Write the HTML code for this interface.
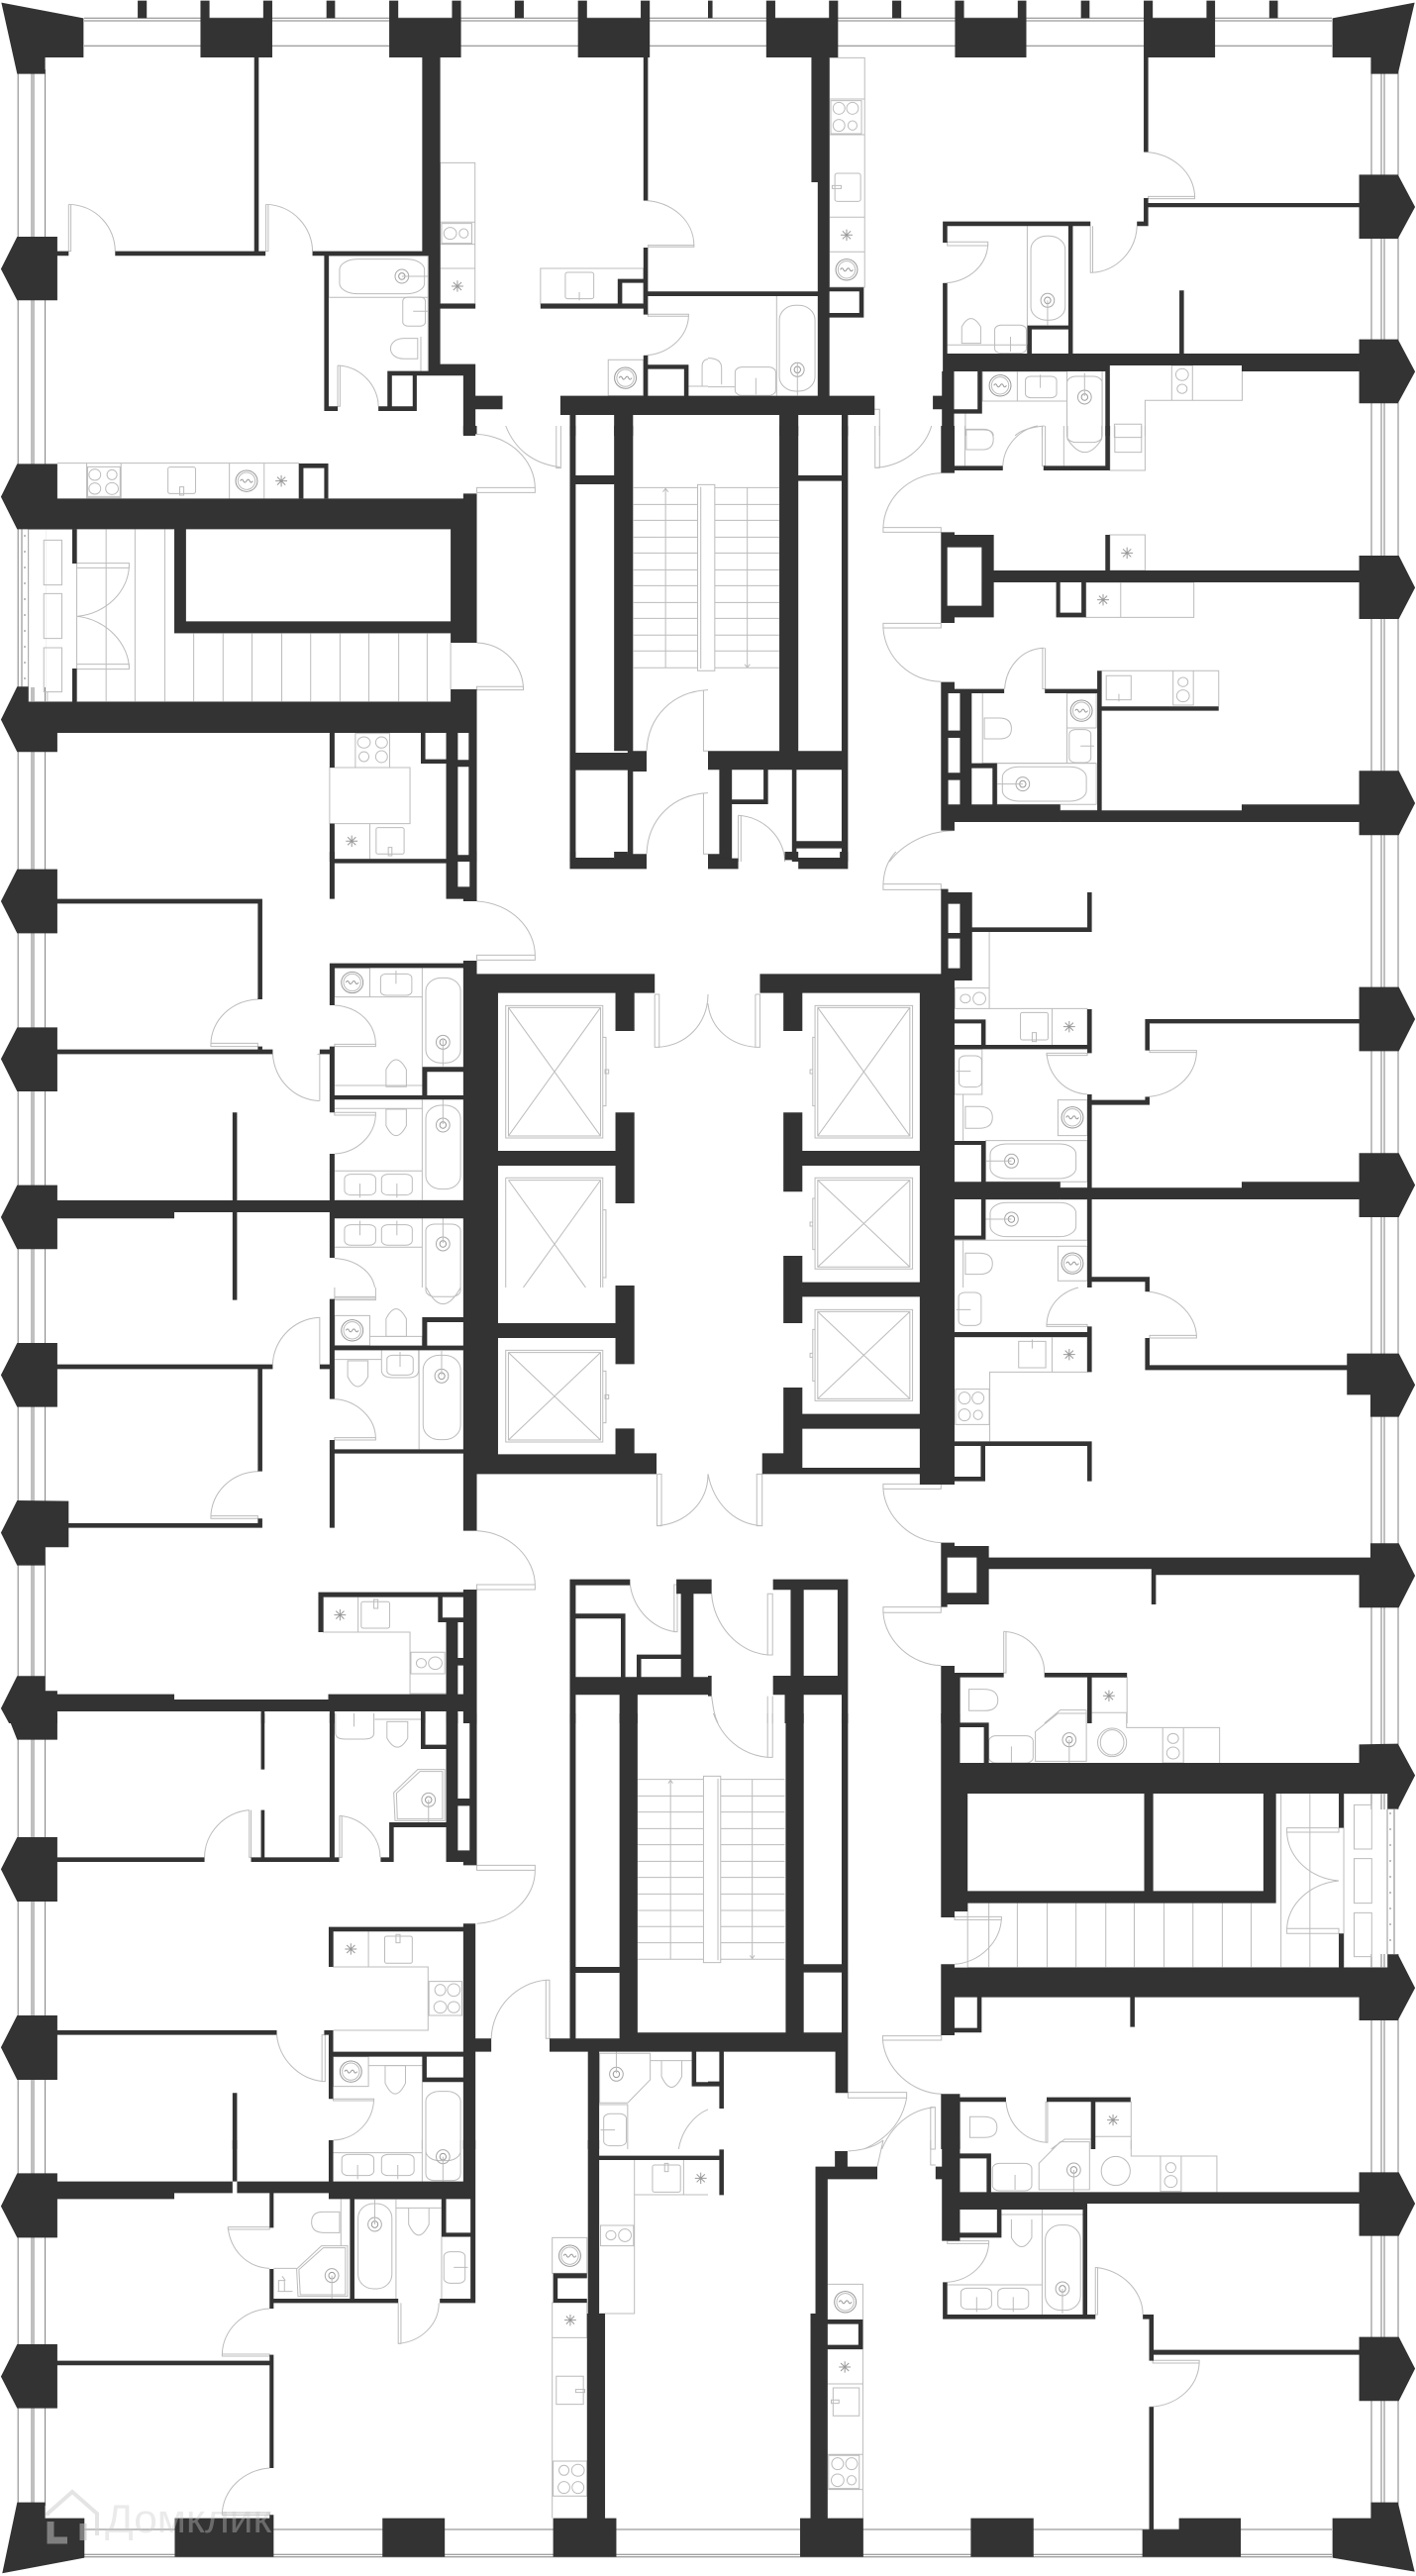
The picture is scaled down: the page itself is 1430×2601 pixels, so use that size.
<!DOCTYPE html>
<html><head><meta charset="utf-8"><title>Floor plan</title>
<style>
html,body{margin:0;padding:0;background:#fff;width:1430px;height:2601px;overflow:hidden}
svg{display:block}
svg *{vector-effect:non-scaling-stroke}
.d{fill:#333}
.l{fill:none;stroke:#bcbcbc;stroke-width:1}
.g{fill:none;stroke:#808080;stroke-width:1}
.t{font-family:"Liberation Sans","DejaVu Sans",sans-serif;font-size:40px;fill:#c8c8c8;fill-opacity:.38}
</style></head><body>
<svg width="1430" height="2601" viewBox="0 0 1430 2601" xmlns="http://www.w3.org/2000/svg">
<defs>
<g id="st"><path class="l" d="M-13 0H13M0-17V17M-9-12L9 12M9-12L-9 12" style="stroke:#999"/></g>
<g id="wa"><ellipse class="l" rx="24" ry="32" style="stroke:#999"/><ellipse class="l" rx="19" ry="26"/><path class="l" d="M-14 0q4-9 7 0t7 0 7 0 7 0" style="stroke:#999"/></g>
<g id="dr"><ellipse class="l" rx="15" ry="21" style="stroke:#aaa"/><ellipse class="l" rx="7" ry="10" style="stroke:#999"/></g>
</defs>
<rect width="1430" height="2601" fill="#fff"/>
<!-- windows -->
<path class="g" d="M85 18.3H1345M85 21H1345M85 46.3H1345M85 2554H1345M85 2579.3H1345M85 2581.7H1345M18.2 70V2530M32 70V2530M34 70V2530M45.6 70V2530M1385 70V2530M1395 70V2530M1398 70V2530M1412 70V2530"/>
<rect x="19" y="534" width="27" height="160" fill="#fff"/>
<path class="g" d="M22 534V694M28.5 534V694"/>
<path class="g" stroke-dasharray="2 14" d="M25 540V690"/>
<rect x="1357" y="1827" width="56" height="146" fill="#fff"/>
<path class="g" d="M1401 1827V1973M1408 1827V1973"/>
<path class="g" stroke-dasharray="2 14" d="M1404 1830V1970"/>

<!-- A -->
<g transform="translate(0,0) scale(.456,.3333)"><path class="l" d="M152 619C215 622 255 690 255 761M152 619V761H157V619M589 619C650 622 692 690 692 761M589 619V761H594V619M748 1107C800 1110 838 1170 838 1231M748 1107V1231H753V1107M1425 607C1490 610 1537 670 1537 745M1435 743H1537V748H1435ZM1525 955C1525 1020 1480 1075 1425 1077M1435 952H1525V958H1435Z"/>
<path class="l" d="M975 493H1052V920H975ZM975 673H1052M975 740H1052M975 813H1052M978 677H1045V737H978Z"/><ellipse class="l" cx="997" cy="707" rx="14" ry="18"/><ellipse class="l" cx="1027" cy="707" rx="10" ry="14"/><use href="#st" x="1013" y="867"/>
<path class="l" d="M728 775H948V901H728ZM728 901H948"/><rect class="l" x="752" y="785" width="188" height="105" rx="40" ry="32"/><use href="#dr" x="890" y="837"/><path class="l" d="M890 837H948"/>
<rect class="l" x="892" y="900" width="50" height="88" rx="12" ry="12"/><path class="l" d="M915 943H948M948 901V1124M932 1020V1124"/><path class="l" d="M925 1025H895C855 1025 855 1087 895 1087H925Z"/>
<path class="l" d="M1197 813H1425V920H1197Z"/><rect class="l" x="1252" y="825" width="63" height="80" rx="6"/><path class="l" d="M1283 885V910"/>
<path class="l" d="M1347 1090H1425V1199H1347Z"/><use href="#wa" x="1385" y="1145"/><path class="l" d="M1525 1170H1568M1555 1170V1110Q1555 1090 1568 1088"/></g>
<!-- B -->
<g transform="translate(715,0) scale(.456,.3333)"><path class="l" d="M269 175H347V870H269ZM269 300H347M269 408H347M269 658H347M269 763H347M272 305H340V405H272Z"/>
<ellipse class="l" cx="290" cy="328" rx="13" ry="18"/><ellipse class="l" cx="320" cy="328" rx="13" ry="18"/><ellipse class="l" cx="290" cy="380" rx="13" ry="18"/><ellipse class="l" cx="320" cy="380" rx="10" ry="14"/>
<rect class="l" x="281" y="525" width="57" height="85" rx="6"/><path class="l" d="M275 562H295V571H275Z"/><use href="#st" x="307" y="712"/><use href="#wa" x="307" y="817"/>
<path class="l" d="M965 460C1030 463 1078 525 1078 598M975 595H1078V602H975ZM950 685C948 760 905 822 850 826M847 685V826H852V685M620 735C620 800 580 855 520 858M530 733H620V744H530Z"/>
<path class="l" d="M707 685V986M530 1045H707V1071"/><rect class="l" x="715" y="715" width="76" height="255" rx="36" ry="40"/><use href="#dr" x="752" y="910"/><path class="l" d="M752 910V985"/>
<path class="l" d="M562 1040V990Q582 940 604 990V1040Z"/><rect class="l" x="635" y="985" width="70" height="85" rx="14"/><path class="l" d="M670 1020V1065"/>
<path class="l" d="M152 897V1199M0 1172H60M0 1085Q30 1085 30 1115V1165"/><rect class="l" x="158" y="925" width="79" height="260" rx="36" ry="44"/><use href="#dr" x="198" y="1120"/><path class="l" d="M198 1100V1198"/><rect class="l" x="60" y="1112" width="90" height="86" rx="16"/><path class="l" d="M106 1145V1195"/>
<path class="l" d="M608 1125H795V1215H608ZM685 1125V1215M795 1215V1320M873 1125V1320"/><use href="#wa" x="647" y="1168"/><rect class="l" x="703" y="1140" width="69" height="65" rx="12"/><path class="l" d="M736 1135V1175"/><rect class="l" x="795" y="1140" width="78" height="200" rx="20"/><use href="#dr" x="834" y="1203"/><path class="l" d="M834 1130V1200"/>
<path class="l" d="M968 1320V1213H1183V1107M1027 1107H1073V1213H1027Z"/><ellipse class="l" cx="1050" cy="1135" rx="14" ry="18"/><ellipse class="l" cx="1050" cy="1178" rx="11" ry="14"/>
<path class="l" d="M570 1320V1302H610Q632 1302 632 1320M745 1290C710 1295 690 1305 680 1320M740 1290V1320"/><rect class="l" x="900" y="1285" width="60" height="40"/><path class="l" d="M310 1240H380V1320M570 1253V1320"/></g>
<!-- C -->
<g transform="translate(0,430) scale(.456,.3333)"><path class="l" d="M127 113H662V220M508 113V220M585 113V220M192 113H268V218H192ZM194 124H266V214H194Z"/>
<ellipse class="l" cx="210" cy="148" rx="13" ry="17"/><ellipse class="l" cx="248" cy="148" rx="11" ry="15"/><ellipse class="l" cx="210" cy="190" rx="13" ry="17"/><ellipse class="l" cx="248" cy="190" rx="14" ry="18"/>
<rect class="l" x="372" y="125" width="61" height="80" rx="5"/><path class="l" d="M398 185H407V210H398Z"/><use href="#wa" x="546" y="167"/><use href="#st" x="623" y="167"/>
<path class="l" d="M1056 25C1130 30 1185 105 1185 190M1056 187H1185V202H1056ZM1120 0C1140 70 1180 115 1240 125M1232 0V128H1242V0"/>
<path class="l" d="M63 313H170V836H63ZM97 346H137V482H97ZM97 508H137V644H97ZM97 672H137V806H97ZM105 806V836"/>
<path class="l" d="M170 416H286V430H170ZM286 420C286 500 235 570 170 577M170 722H286V737H170ZM286 737C286 660 235 585 170 577"/>
<path class="l" d="M235 313V836M299 313V836M365 313V836M429 628V836M494 628V836M558 628V836M624 628V836M688 628V836M753 628V836M817 628V836M883 628V836M946 628V836M170 836H998M998 657V798M386 628H998"/>
<path class="l" d="M1056 657C1115 660 1159 725 1159 798M1056 790H1159V800H1056Z"/>
<path class="l" d="M1403 187H1545M1403 238H1545M1403 286H1545M1403 337H1545M1403 385H1545M1403 436H1545M1403 484H1545M1403 535H1545M1403 583H1545M1403 634H1545M1403 682H1545M1403 733H1545M1474 187V733M1468 200L1474 190 1480 200M1568 178H1545V742H1568M1552 185V735"/>
<path class="l" d="M1432 985C1435 880 1490 805 1568 800M1558 800V985H1568M1432 1297C1435 1190 1490 1117 1568 1112M1558 1112V1297H1568"/>
<path class="l" d="M787 932H863V1035H787ZM730 1035H908V1205H730ZM819 1205V1312"/><ellipse class="l" cx="806" cy="959" rx="14" ry="17"/><ellipse class="l" cx="845" cy="959" rx="13" ry="17"/><ellipse class="l" cx="806" cy="1002" rx="11" ry="15"/><ellipse class="l" cx="845" cy="1002" rx="13" ry="18"/>
<use href="#st" x="779" y="1258"/><rect class="l" x="833" y="1217" width="62" height="80" rx="5"/><path class="l" d="M860 1277H868V1302H860Z"/></g>
<!-- D -->
<g transform="translate(715,430) scale(.456,.3333)"><path class="l" d="M15 187H158M15 238H158M15 286H158M15 337H158M15 385H158M15 436H158M15 484H158M15 535H158M15 583H158M15 634H158M15 682H158M15 733H158M87 187V733M81 722L87 732 93 722M0 178H15V742H0"/>
<path class="l" d="M516 143C445 147 390 220 388 308M388 308H516V322H388ZM388 598H516V612H388ZM388 612C392 700 445 772 516 775M745 673C695 675 660 730 657 797M741 673V797H747V673M370 0V127H380V0M370 127C430 122 480 70 495 0M653 121C655 60 690 10 730 0M740 0V121H747V0"/>
<path class="l" d="M890 330H968V438H890ZM837 474H1076V580H837ZM914 474V580"/><use href="#st" x="928" y="385"/><use href="#st" x="875" y="527"/>
<path class="l" d="M872 742H1131V850M882 757H937V830H882ZM1030 742H1075V846H1030Z"/><ellipse class="l" cx="1052" cy="776" rx="11" ry="14"/><ellipse class="l" cx="1052" cy="818" rx="14" ry="18"/><path class="l" d="M910 812V835"/>
<path class="l" d="M795 810H860V915H795Z"/><use href="#wa" x="827" y="863"/><rect class="l" x="800" y="920" width="48" height="100" rx="14"/><path class="l" d="M825 970H855M795 915V1022M608 810V1022H860"/><path class="l" d="M612 885H645Q672 885 672 917T645 948H612Z"/>
<path class="l" d="M640 1022H860V1147H640Z"/><rect class="l" x="652" y="1033" width="186" height="104" rx="36" ry="32"/><use href="#dr" x="697" y="1085"/><path class="l" d="M640 1085H697"/>
<path class="l" d="M780 1147V1165H862M546 1226C480 1228 430 1270 402 1320"/><path class="l" d="M67 1180V1320M73 1180V1320M67 1180C125 1185 170 1250 170 1320"/>
<path class="l" d="M890 0V135H968V0M788 0V121M901 0V80H960V0"/><path class="l" d="M796 0V40Q835 120 872 40V0"/><path class="l" d="M572 10H610Q632 10 632 40T610 72H572Z"/><path class="l" d="M569 0V121"/></g>
<!-- E -->
<g transform="translate(0,860) scale(.456,.3333)"><path class="l" d="M1120 466H1335V867H1120ZM1126 472H1330V861H1126ZM1126 472L1330 861M1330 472L1126 861M1335 562H1342V770H1335ZM1340 660H1348V672H1340ZM1120 988H1335V1320M1120 988V1320M1126 995H1330V1320M1126 995L1297 1320M1330 995L1159 1320M1335 1085H1342V1290H1335Z"/>
<path class="l" d="M1450 432V592H1460V432H1450M1455 592C1520 590 1568 520 1568 432"/>
<path class="l" d="M1056 150C1130 155 1185 230 1185 315M1056 313H1185V328H1056ZM572 447C510 450 467 515 467 583M467 580H571V590H467ZM604 613C608 690 650 750 707 755M703 613H708V755M741 465C795 470 832 520 832 585M741 583H832V590H741ZM741 790H832V798H741ZM832 798C830 860 790 912 741 915M741 1232C790 1235 825 1275 830 1320"/>
<path class="l" d="M741 352H819V440H741ZM819 440H935M935 352V652"/><use href="#wa" x="780" y="396"/><rect class="l" x="843" y="370" width="69" height="65" rx="12"/><path class="l" d="M877 360V400"/>
<rect class="l" x="943" y="382" width="77" height="258" rx="34" ry="40"/><use href="#dr" x="981" y="577"/><path class="l" d="M981 570V650"/>
<path class="l" d="M855 712V660Q877 600 900 660V712ZM741 708H935"/>
<path class="l" d="M855 780V830Q877 890 900 830V780ZM741 778H935M935 751V1056"/><rect class="l" x="943" y="768" width="77" height="254" rx="34" ry="40"/><use href="#dr" x="981" y="828"/><path class="l" d="M981 750V825"/>
<path class="l" d="M741 967H935M741 1056H1026"/><rect class="l" x="763" y="977" width="69" height="63" rx="14"/><rect class="l" x="845" y="977" width="68" height="63" rx="14"/><path class="l" d="M797 1005V1048M879 1005V1048"/>
<rect class="l" x="763" y="1130" width="69" height="62" rx="14"/><rect class="l" x="845" y="1130" width="68" height="62" rx="14"/><path class="l" d="M797 1118V1162M879 1118V1162M741 1198H935M935 1111V1320"/><rect class="l" x="943" y="1128" width="77" height="220" rx="20"/><use href="#dr" x="981" y="1188"/><path class="l" d="M981 1110V1185"/></g>
<!-- F -->
<g transform="translate(715,860) scale(.456,.3333)"><path class="l" d="M237 466H453V867H237ZM243 472H447V861H243ZM243 472L447 861M447 472L243 861M232 562H237V770H232ZM226 660H232V672H226ZM237 988H453V1264H237ZM243 995H447V1258H243ZM243 995L447 1258M447 995L243 1258M232 1050H237V1205H232ZM226 1122H232V1134H226Z"/>
<path class="l" d="M105 432V592H115V432H105M105 592C45 585 5 530 0 460M388 98H516V115H388ZM388 98C390 50 400 25 416 0"/>
<path class="l" d="M547 413H623V475H547ZM623 243V475M546 475H840V585M762 475V585"/><ellipse class="l" cx="570" cy="445" rx="11" ry="13"/><ellipse class="l" cx="601" cy="445" rx="14" ry="19"/><rect class="l" x="692" y="487" width="61" height="83" rx="5"/><path class="l" d="M718 548H727V575H718Z"/><use href="#st" x="800" y="530"/>
<path class="l" d="M546 598H607V735H546Z"/><rect class="l" x="556" y="618" width="50" height="95" rx="14"/><path class="l" d="M550 665H582M565 735V875"/><path class="l" d="M570 772H600Q630 772 630 805T600 838H570Z"/><path class="l" d="M775 752H840V860H775Z"/><use href="#wa" x="807" y="805"/>
<path class="l" d="M750 610H840V617H750ZM750 612C755 680 790 730 840 735M978 602H1082V608H978ZM1082 605C1082 680 1030 740 968 743"/>
<path class="l" d="M615 875H840V1000H615ZM780 1000V1018H840"/><rect class="l" x="625" y="885" width="190" height="105" rx="36" ry="32"/><use href="#dr" x="672" y="937"/><path class="l" d="M615 937H672"/>
<path class="l" d="M615 1053H840V1177H546M780 1040V1053"/><rect class="l" x="625" y="1063" width="190" height="103" rx="36" ry="32"/><use href="#dr" x="672" y="1113"/><path class="l" d="M615 1113H672"/>
<path class="l" d="M565 1177V1320M570 1216H600Q630 1216 630 1248T600 1280H570Z"/><path class="l" d="M775 1195H840V1300H775Z"/><use href="#wa" x="807" y="1247"/></g>
<!-- G -->
<g transform="translate(0,1300) scale(.456,.3333)"><path class="l" d="M741 85H819V176H741ZM819 148H935V176"/><use href="#wa" x="780" y="130"/><path class="l" d="M855 148V95Q877 35 900 95V148Z"/><path class="l" d="M741 0V33H832V0M741 28H832V38H741Z"/>
<path class="l" d="M770 222V270Q792 330 815 270V222ZM741 218H845M845 190V250Q845 273 870 273H905Q927 273 927 250V190"/><rect class="l" x="857" y="205" width="58" height="60" rx="12"/><path class="l" d="M886 195V240M928 190V490"/><rect class="l" x="937" y="205" width="83" height="256" rx="36" ry="44"/><use href="#dr" x="978" y="268"/><path class="l" d="M978 192V265M944 0Q980 100 1020 0"/>
<path class="l" d="M705 91C650 95 605 160 604 233M703 91H708V233M741 338C790 342 832 395 832 458M741 455H832V462H741ZM572 557C510 560 467 625 467 695M467 692H571V700H467ZM1455 565V722H1465V565H1455M1455 722C1520 715 1568 650 1568 565M1056 737C1130 742 1185 820 1185 903M1056 900H1185V915H1056ZM1395 884C1395 960 1440 1035 1497 1043M1493 900H1500V1043H1493Z"/>
<path class="l" d="M1120 190H1335V468H1120ZM1126 197H1330V462H1126ZM1126 197L1330 462M1330 197L1126 462M1335 253H1342V410H1335ZM1340 325H1348V337H1340Z"/>
<path class="l" d="M716 938V1044H908V1230H988M793 938V1044M910 1105H985V1170H910Z"/><use href="#st" x="753" y="992"/><rect class="l" x="800" y="952" width="63" height="80" rx="5"/><path class="l" d="M828 945H837V972H828Z"/><ellipse class="l" cx="933" cy="1138" rx="11" ry="14"/><ellipse class="l" cx="964" cy="1138" rx="15" ry="19"/></g>
<!-- H -->
<g transform="translate(715,1300) scale(.456,.3333)"><path class="l" d="M237 67H453V343H237ZM243 73H447V337H243ZM243 73L447 337M447 73L243 337M232 127H237V283H232ZM226 199H232V211H226Z"/>
<rect class="l" x="555" y="15" width="50" height="100" rx="14"/><path class="l" d="M550 67H582M688 163H748V243H688ZM718 157V185"/><path class="l" d="M546 150H840V256H624V466M762 150V256M548 308H623V415H548Z"/><use href="#st" x="800" y="203"/><ellipse class="l" cx="568" cy="335" rx="13" ry="18"/><ellipse class="l" cx="598" cy="335" rx="13" ry="18"/><ellipse class="l" cx="568" cy="386" rx="13" ry="18"/><ellipse class="l" cx="598" cy="386" rx="10" ry="14"/>
<path class="l" d="M388 595H516V610H388ZM388 610C392 695 450 770 516 773M388 968H516V985H388ZM388 985C392 1070 450 1143 516 1145M655 1042V1167H660V1042M655 1042C705 1045 745 1100 745 1167M8 928C12 1020 65 1105 132 1113M132 928H143V1113H132ZM8 1238C12 1280 15 1300 22 1320M132 1238V1320M143 1238V1320M968 12C1030 15 1082 80 1082 150M978 145H1082V153H978ZM750 112H840V118H750ZM750 112C752 55 780 15 820 0M0 565C12 650 55 715 118 722M108 565H120V722H108Z"/>
<path class="l" d="M850 1181H928V1320M850 1288H928M558 1181V1320M578 1217H610Q642 1217 642 1250T610 1282H578ZM745 1320L780 1280H838V1320"/><use href="#st" x="888" y="1237"/></g>
<!-- I -->
<g transform="translate(0,1730) scale(.456,.3333)"><path class="l" d="M552 293V436H556V293M552 293C495 300 453 365 453 436M752 310V436H757V310M752 310C800 315 842 370 842 436M1056 460H1185V475H1056ZM1185 475C1185 560 1130 630 1056 637M1209 808H1217V985H1209ZM1210 808C1145 815 1090 890 1088 985M713 974H720V1115H713ZM613 974C618 1045 660 1108 716 1115M738 1168H828V1173H738ZM828 1170C826 1235 790 1290 738 1293"/>
<path class="l" d="M1412 200H1558M1412 250H1558M1412 299H1558M1412 349H1558M1412 398H1558M1412 448H1558M1412 497H1558M1412 547H1558M1412 597H1558M1412 646H1558M1412 695H1558M1412 745H1558M1485 200V745M1480 212L1485 202 1490 212M1568 190H1558V755H1568"/>
<path class="l" d="M925 170H985V325H875L872 240Z"/><path class="l" d="M930 176H980V320H880L878 242Z"/><use href="#dr" x="949" y="262"/><path class="l" d="M949 262V330"/><path class="l" d="M857 25V75Q880 130 903 75V25ZM830 18H932M743 0V60Q743 78 765 78H805Q828 78 828 60V0M784 0V40"/>
<path class="l" d="M738 661V768H948V960H738M816 661V768M950 812H1023V915H950Z"/><use href="#st" x="777" y="714"/><rect class="l" x="852" y="675" width="61" height="82" rx="5"/><path class="l" d="M877 670H886V695H877Z"/><ellipse class="l" cx="975" cy="838" rx="12" ry="17"/><ellipse class="l" cx="1005" cy="838" rx="14" ry="19"/><ellipse class="l" cx="975" cy="890" rx="14" ry="18"/><ellipse class="l" cx="1005" cy="890" rx="13" ry="17"/>
<path class="l" d="M738 1040H816V1130H738ZM816 1067H935"/><use href="#wa" x="777" y="1085"/><path class="l" d="M853 1067V1120Q875 1185 898 1120V1067ZM935 1117V1320"/><rect class="l" x="943" y="1145" width="77" height="210" rx="30"/>
<path class="l" d="M1328 1030H1440V1110L1390 1180H1328Z"/><use href="#dr" x="1365" y="1093"/><path class="l" d="M1365 1025V1090M1465 1052V1100Q1487 1165 1510 1100V1052M1440 1052H1532"/><rect class="l" x="1337" y="1213" width="50" height="97" rx="14"/><path class="l" d="M1330 1262H1362M1327 1185H1390V1320M1503 1320C1510 1260 1540 1215 1568 1200"/></g>
<!-- J -->
<g transform="translate(715,1730) scale(.456,.3333)"><path class="l" d="M28 200H170M28 250H170M28 299H170M28 349H170M28 398H170M28 448H170M28 497H170M28 547H170M28 597H170M28 646H170M28 695H170M28 745H170M98 200V745M93 733L98 743 103 733M0 190H28V755H0M22 198V748"/>
<path class="l" d="M132 0V133H143V0M132 133C70 125 30 70 12 0M546 616H650V625H546ZM650 620C648 695 600 755 546 760M310 1148H440V1165H310ZM440 1165C430 1240 395 1290 345 1320M503 1193C445 1200 405 1255 385 1320M493 1193H503V1320H493ZM387 977H517V990H387ZM387 990C392 1075 450 1150 517 1153"/>
<path class="l" d="M622 575V770M685 575V770M751 575V770M815 575V770M881 575V770M944 575V770M1010 575V770M1074 575V770M1139 575V770M1203 575V770M1269 243V770M1333 243V770M575 770H1397M575 575V770"/>
<path class="l" d="M1282 347H1397V360H1282ZM1282 360C1285 440 1335 500 1397 507M1282 652H1397V667H1282ZM1282 652C1285 575 1335 515 1397 507M1408 243H1505V770H1408ZM1431 277H1470V411H1431ZM1431 440H1470V575H1431ZM1431 604H1470V737H1431Z"/>
<rect class="l" x="622" y="68" width="98" height="82" rx="16"/><path class="l" d="M672 100V148M725 55L775 0H838V145H725Z"/><use href="#dr" x="800" y="80"/><path class="l" d="M800 80V150"/><ellipse class="l" cx="895" cy="88" rx="32" ry="43"/><ellipse class="l" cx="895" cy="88" rx="26" ry="38"/>
<path class="l" d="M927 0V43H1133V150M1007 43H1053V150H1007Z"/><ellipse class="l" cx="1030" cy="76" rx="12" ry="15"/><ellipse class="l" cx="1030" cy="120" rx="14" ry="18"/>
<path class="l" d="M558 1177V1320M580 1222H610Q640 1222 640 1254T610 1285H580ZM858 1177H937V1320M858 1282H937M748 1177H752V1300H748ZM660 1177C665 1245 700 1295 750 1300M760 1320L790 1290H848"/><use href="#st" x="897" y="1232"/></g>
<!-- K -->
<g transform="translate(0,2161) scale(.456,.3333)"><path class="l" d="M505 263H597V270H505ZM505 265C510 330 545 385 597 388M597 510C540 513 492 575 492 650M492 648H597V654H492ZM882 493V616H888V493M882 616C935 610 972 555 972 493M597 993C540 998 492 1060 492 1135M492 1128H597V1135H492Z"/>
<path class="l" d="M738 38H935M935 0V125"/><rect class="l" x="757" y="43" width="71" height="64" rx="14"/><rect class="l" x="845" y="43" width="72" height="64" rx="14"/><path class="l" d="M792 75V118M881 75V118M943 0V100Q943 122 965 122H1000Q1020 122 1020 100V0"/><use href="#dr" x="981" y="50"/><path class="l" d="M981 50V125"/>
<path class="l" d="M785 178H978V480M877 178V480M877 205H978"/><rect class="l" x="793" y="192" width="75" height="258" rx="34" ry="44"/><use href="#dr" x="830" y="255"/><path class="l" d="M830 180V255M905 205V255Q927 320 950 255V205"/>
<path class="l" d="M712 320H770V473H660L657 390Z"/><path class="l" d="M716 326H765V468H665L662 392Z"/><use href="#dr" x="735" y="410"/><path class="l" d="M735 410V480M752 217H715Q690 217 690 248T715 280H752ZM755 178V320M606 388H657"/>
<rect class="l" x="983" y="338" width="47" height="95" rx="14"/><path class="l" d="M1005 385H1036M978 292H1042"/><path class="l" d="M615 458H648M617 458V425H630V458M625 412L632 425"/>
<path class="l" d="M1405 60V525H1328M1405 165H1568M1514 60V165M1330 258H1403V320H1330Z"/><rect class="l" x="1445" y="75" width="62" height="82" rx="5"/><path class="l" d="M1472 70H1480V95H1472Z"/><use href="#st" x="1552" y="115"/><ellipse class="l" cx="1353" cy="288" rx="11" ry="14"/><ellipse class="l" cx="1384" cy="288" rx="14" ry="19"/>
<path class="l" d="M1223 295H1300V403H1223ZM1223 492H1300V598H1223ZM1223 598V1145M1232 715H1292V800H1232ZM1275 755H1295V764H1275ZM1225 972H1300V1078H1225Z"/><use href="#wa" x="1262" y="350"/><use href="#st" x="1263" y="545"/><ellipse class="l" cx="1249" cy="1000" rx="11" ry="15"/><ellipse class="l" cx="1280" cy="1000" rx="14" ry="18"/><ellipse class="l" cx="1249" cy="1052" rx="13" ry="18"/><ellipse class="l" cx="1280" cy="1052" rx="13" ry="18"/></g>
<!-- L -->
<g transform="translate(715,2161) scale(.456,.3333)"><path class="l" d="M310 33C345 30 370 20 388 0M375 80L388 0M493 0V75H504M530 305H622V313H530ZM622 310C620 375 580 425 530 430M858 385V528H863V385M858 385C915 392 963 455 963 528M985 667H1088V675H985ZM1088 670C1088 745 1040 805 977 808"/>
<rect class="l" x="630" y="70" width="87" height="83" rx="16"/><path class="l" d="M680 105V150M733 70L780 5H845V150H733Z"/><use href="#dr" x="810" y="90"/><path class="l" d="M810 90V157"/><ellipse class="l" cx="903" cy="93" rx="32" ry="44"/><path class="l" d="M937 0V48H1127V157M1002 48H1048V155H1002Z"/><ellipse class="l" cx="1025" cy="83" rx="11" ry="15"/><ellipse class="l" cx="1025" cy="125" rx="14" ry="18"/>
<path class="l" d="M650 225H830M740 210V528M672 240V295Q695 350 717 295V240M530 438H740"/><rect class="l" x="747" y="257" width="78" height="258" rx="34" ry="44"/><use href="#dr" x="785" y="450"/><path class="l" d="M785 450V525"/><rect class="l" x="560" y="448" width="68" height="64" rx="14"/><rect class="l" x="642" y="448" width="68" height="64" rx="14"/><path class="l" d="M595 475V520M676 475V520"/>
<path class="l" d="M265 436H343V1145M265 633H343M265 738H343M273 787H290V797H273ZM277 750H335V835H277ZM267 955H335V1055H267ZM265 952H343M265 1058H343"/><use href="#wa" x="304" y="490"/><use href="#st" x="303" y="687"/><ellipse class="l" cx="287" cy="980" rx="13" ry="18"/><ellipse class="l" cx="318" cy="980" rx="13" ry="18"/><ellipse class="l" cx="287" cy="1030" rx="14" ry="19"/><ellipse class="l" cx="318" cy="1030" rx="10" ry="14"/></g>

<!-- WALLS -->
<g class="d">
<g transform="translate(0,0) scale(.456,.3333)"><path d="M3 8L185 55V174H100V224H38ZM305 2H325V55H305ZM723 2H742V55H723ZM1140 2H1160V55H1140ZM444 2H464V55H583V2H603V174H444ZM862 2H882V55H1001V2H1021V174H862ZM1280 2H1300V55H1419V2H1439V174H1280ZM2 815L38 717H127V910H38ZM127 761H152V775H127ZM255 761H588V775H255ZM563 174H573V761H563ZM692 761H948V775H692ZM935 174H975V1124H949V775H935ZM718 775H728V1245H718ZM718 1231H748V1245H718ZM838 1231H923V1245H838ZM858 1124H949V1138H858ZM858 1138H868V1245H858ZM914 1138H923V1245H914ZM949 1103H1053V1138H949ZM1026 1138H1053V1320H1026ZM1053 1199H1113V1240H1053ZM975 920H1053V935H975ZM1197 920H1425V935H1197ZM1368 845H1378V920H1368ZM1368 845H1425V857H1368ZM1425 750H1435V953H1425ZM1425 174H1435V607H1425ZM1435 883H1568V897H1435ZM1425 1077H1435V1200H1425ZM1425 1105H1525V1118H1425ZM1515 1105H1525V1200H1515ZM1241 1199H1568V1257H1241ZM1262 1257H1275V1320H1262ZM1360 1257H1402V1320H1360Z"/></g>
<g transform="translate(715,0) scale(.456,.3333)"><path d="M0 2H10V55H0ZM408 2H428V55H408ZM826 2H845V55H826ZM1243 2H1262V55H1243ZM129 2H149V55H268V2H288V174H129ZM547 2H567V55H686V2H705V174H547ZM965 2H985V55H1104V2H1123V174H965ZM1383 55L1565 8 1528 224H1468V174H1383ZM229 174H269V552H229ZM243 552H269V1199H243ZM0 883H243V897H0ZM269 871H345V883H269ZM335 871H345V962H335ZM269 948H345V962H269ZM0 1199H369V1257H0ZM158 1257H200V1320H158ZM296 1257H310V1320H296ZM1442 529H1528L1566 627 1528 723H1442ZM1442 1028H1528L1566 1126 1528 1222H1442ZM975 615H1442V628H975ZM965 174H975V460H965ZM965 600H975V685H965ZM950 671H975V685H950ZM520 671H847V685H520ZM520 685H530V735H520ZM798 685H808V1071H798ZM707 986H798V998H707ZM707 986H717V1071H707ZM520 858H530V1071H520ZM520 1071H1442V1107H520ZM520 1107H890V1125H520ZM1182 1107H1442V1125H1182ZM1044 880H1054V1071H1044ZM518 1125H545V1320H518ZM498 1199H518V1240H498ZM545 1240H607V1253H545ZM597 1125H607V1240H597ZM880 1125H890V1320H880Z"/></g>
<g transform="translate(0,430) scale(.456,.3333)"><path fill-rule="evenodd" d="M2 215L38 115H127V220H1026V205H1056V657H998V628H386V313H38ZM412 313V592H998V313Z"/><path d="M1026 0H1056V25H1026ZM662 114H727V128H662ZM662 114H672V220H662ZM718 114H727V220H718ZM2 890L38 790H63V836H998V798H1056V930H127V988H38ZM160 313H170V417H160ZM160 735H170V836H160ZM1262 0H1275V1320H1262ZM1360 0H1402V985H1360ZM1275 150H1360V177H1275ZM1262 990H1432V1043H1262ZM1390 985H1432V1047H1390ZM1390 1047H1402V1320H1390ZM1388 1297H1432V1320H1388ZM1262 1308H1360V1320H1262ZM988 930H1014V1320H988ZM1038 930H1056V1320H1038ZM1014 1012H1038V1033H1014ZM1014 1300H1038V1320H1014ZM932 930H942V1023H932ZM932 1010H988V1023H932ZM730 930H741V1035H730ZM730 1205H741V1320H730ZM730 1312H988V1320H730Z"/></g>
<g transform="translate(715,430) scale(.456,.3333)"><path d="M158 0H200V985H158ZM296 0H310V1320H296ZM200 150H296V167H200ZM0 985H310V1042H0ZM186 1042H196V1320H186ZM25 1042H53V1320H25ZM0 1297H25V1320H0ZM53 1132H133V1146H53ZM123 1042H133V1146H123ZM186 1258H310V1280H186ZM186 1308H310V1320H186ZM516 0H546V143H516ZM546 121H653V135H546ZM743 121H890V135H743ZM880 0H890V135H880ZM516 322H546V330H516ZM516 330H633V368H516ZM516 368H530V545H516ZM606 368H633V545H606ZM516 545H633V580H516ZM516 580H546V597H516ZM633 438H1442V474H633ZM880 330H890V438H880ZM771 474H780V580H771ZM827 474H837V580H827ZM771 566H837V580H771ZM1442 393H1530L1566 490 1530 585H1442ZM516 776H546V797H516ZM516 797H656V810H516ZM746 797H862V810H746ZM516 810H532V1148H516ZM558 810H584V1148H558ZM532 923H558V945H532ZM532 1051H558V1073H532ZM584 1022H640V1037H584ZM630 1037H640V1147H630ZM862 742H872V1165H862ZM872 850H1131V863H872ZM516 1147H780V1200H516ZM780 1165H1182V1200H780ZM1182 1147H1442V1200H1182ZM516 1200H546V1226H516ZM1442 1045H1530L1566 1143 1530 1240H1442Z"/></g>
<g transform="translate(0,860) scale(.456,.3333)"><path d="M730 0H741V143H730ZM741 22H988V35H741ZM988 0H1014V143H988ZM1014 22H1040V30H1014ZM1040 0H1056V143H1040ZM1026 143H1056V150H1026ZM1014 106H1056V143H1014ZM1262 0H1275V22H1262ZM1360 0H1390V22H1360ZM1262 20H1432V52H1262ZM2 150L38 53H127V247H38ZM2 628L38 532H127V726H38ZM2 1107L38 1010H127V1204H38ZM127 143H581V157H127ZM571 143H581V447H571ZM127 599H604V613H127ZM571 590H581V599H571ZM708 599H741V613H708ZM730 338H741V465H730ZM730 338H1026V352H730ZM730 590H741V790H730ZM741 738H1026V751H741ZM935 652H946V738H935ZM935 652H1026V667H935ZM730 915H741V1056H730ZM1026 330H1056V370H1026ZM1026 370H1103V1320H1026ZM1103 370H1450V428H1103ZM1363 428H1405V543H1363ZM1103 906H1363V951H1103ZM1363 790H1405V1065H1363ZM1363 1314H1405V1320H1363ZM127 1056H1026V1092H127ZM127 1092H386V1111H127ZM730 1092H1026V1111H730ZM515 790H525V1320H515ZM730 1111H741V1230H730Z"/></g>
<g transform="translate(715,860) scale(.456,.3333)"><path d="M0 20H67V52H0ZM170 25H200V52H170ZM170 25V52H310V0H292V25H200V0H170ZM115 370H516V428H115ZM516 113H532V370H516ZM558 123H585V390H558ZM532 123H558V158H532ZM532 246H558V263H532ZM532 353H558V390H532ZM516 370H546V1320H469V428H516ZM167 428H209V543H167ZM167 790H209V1030H167ZM209 906H469V951H209ZM167 1224H209V1320H167ZM209 1304H469V1320H209ZM585 229H850V243H585ZM840 123H850V243H840ZM546 508H615V520H546ZM605 508H615V585H605ZM546 585H850V598H546ZM840 477H850V610H840ZM968 507H1442V520H968ZM968 507H978V602H968ZM1442 410H1530L1566 507 1530 604H1442ZM840 735H850V1320H840ZM850 752H978V767H850ZM968 743H978V767H968ZM546 876H615V888H546ZM605 876H615V1000H605ZM546 1000H780V1053H546ZM780 1018H1182V1053H780ZM1182 1000H1442V1053H1182ZM605 1053H615V1175H605ZM546 1163H615V1175H546ZM1442 913H1530L1566 1010 1530 1107H1442ZM850 1288H978V1303H850ZM968 1288H978V1320H968Z"/></g>
<g transform="translate(0,1300) scale(.456,.3333)"><path d="M515 0H525V38H515ZM730 35H741V338H730ZM741 176H1026V190H741ZM935 90H946V176H935ZM935 90H1026V105H935ZM1026 0H1103V565H1026ZM1103 108H1363V153H1103ZM1363 0H1405V232H1363ZM1363 427H1405V505H1363ZM1103 505H1454V565H1103ZM1405 502H1454V565H1405ZM1026 565H1056V737H1026ZM2 265L38 168H127V362H38ZM2 743L38 645 152 647V787H100V842H38ZM127 233H604V247H127ZM571 247H581V557H571ZM708 233H741V247H708ZM152 714H581V728H152ZM571 700H581V714H571ZM730 462H741V728H730ZM741 490H1026V503H741ZM705 923H1026V938H705ZM705 938H716V1044H705ZM970 938H980V1014H970ZM970 1000H1056V1014H970ZM1026 915H1056V1320H1026ZM988 1014H1014V1320H988ZM1014 1122H1040V1145H1014ZM2 1275L38 1177H100V1222H127V1232H386V1248H727V1232H1056V1284H127V1320H20ZM578 1284H586V1320H578ZM730 1284H741V1320H730ZM932 1284H942V1320H932ZM988 1284H1014V1320H988ZM1040 1284H1056V1320H1040ZM1262 884H1395V902H1262ZM1262 902H1275V1180H1262ZM1275 988H1385V1003H1275ZM1375 1003H1385V1180H1375ZM1498 884H1568V928H1498ZM1508 928H1536V1180H1508ZM1410 1112H1508V1125H1410ZM1410 1125H1420V1180H1410ZM1262 1180H1568V1234H1262ZM1262 1234H1275V1320H1262ZM1372 1234H1412V1320H1372Z"/></g>
<g transform="translate(715,1300) scale(.456,.3333)"><path d="M167 0H546V28H167ZM167 28H209V108H167ZM469 28H546V597H469ZM209 383H469V428H209ZM167 303H209V565H167ZM120 502H167V565H120ZM209 546H469V565H209ZM546 466H850V480H546ZM840 466H850V587H840ZM604 480H614V587H604ZM546 573H614V587H546ZM546 135H850V150H546ZM840 118H850V256H840ZM1415 200H1530L1566 295 1530 392H1467V325H1415ZM978 235H1415V250H978ZM968 153H978V250H968ZM968 0H978V12H968ZM516 773H546V783H516ZM516 783H622V818H516ZM516 818H530V968H516ZM595 818H622V960H595ZM516 925H622V960H516ZM622 818H1467V853H622ZM982 853H1467V871H982ZM1467 775H1530L1566 873 1530 970H1442V871H1467ZM982 871H992V960H982ZM144 884H310V916H144ZM183 916H212V1176H183ZM287 916H310V1176H287ZM144 1176H310V1234H144ZM170 1234H212V1320H170ZM296 1234H310V1320H296ZM0 884H8V928H0ZM0 1176H8V1238H0ZM516 1146H546V1320H516ZM546 1167H655V1181H546ZM745 1167H928V1181H745ZM840 1181H850V1320H840ZM546 1181H558V1320H546Z"/></g>
<g transform="translate(0,1730) scale(.456,.3333)"><path d="M15 0H127V80H38ZM578 0H586V170H578ZM578 293H586V450H578ZM127 436H453V450H127ZM556 436H751V450H556ZM730 0H741V436H730ZM932 0H942V108H932ZM932 95H988V108H932ZM988 0H1014V450H988ZM1040 0H1056V460H1040ZM1014 258H1040V280H1014ZM1014 415H1040V450H1014ZM862 330H988V345H862ZM862 330H872V450H862ZM843 436H872V450H843ZM1026 450H1056V460H1026ZM2 472L38 375H127V570H38ZM2 1012L38 915H127V1110H38ZM127 960H613V974H127ZM718 960H738V974H718ZM728 974H738V1168H728ZM1026 637H1053V1320H1026ZM728 647H1026V661H728ZM728 661H738V768H728ZM1026 985H1088V1025H1026ZM1217 985H1568V1025H1217ZM738 1025H1026V1040H738ZM935 1040H945V1117H935ZM945 1103H1026V1117H945ZM728 1293H738V1320H728ZM515 1150H525V1320H515ZM1262 0H1275V985H1262ZM1372 0H1412V985H1372ZM1275 768H1372V786H1275ZM1412 967H1568V985H1412ZM1302 1025H1327V1320H1302ZM1532 1025H1542V1130H1532ZM1532 1117H1568V1130H1532Z"/></g>
<g transform="translate(715,1730) scale(.456,.3333)"><path d="M172 0H212V985H172ZM296 0H310V1150H296ZM282 1025H310V1150H282ZM212 760H296V785H212ZM0 967H310V1025H0ZM25 1025H35V1197H25ZM0 1115H25V1130H0ZM516 0H558V205H516ZM558 28H622V42H558ZM611 28H622V150H611ZM558 150H1442V243H558ZM1442 94L1528 92 1566 188 1528 290H1505V243H1442ZM516 205H575V600H516ZM966 243H986V538H966ZM575 538H1258V575H575ZM1230 243H1258V575H1230ZM516 600H546V618H516ZM516 760H546V770H516ZM516 770H1505V860H516ZM1505 730H1528L1566 832 1528 930H1442V860H1505ZM516 860H546V975H516ZM546 953H606V967H546ZM596 860H606V967H596ZM935 860H945V950H935ZM1397 243H1408V347H1397ZM1397 667H1408V770H1397ZM516 1153H558V1320H516ZM558 1163H660V1177H558ZM750 1163H936V1177H750ZM848 1177H858V1320H848Z"/></g>
<g transform="translate(0,2161) scale(.456,.3333)"><path d="M38 100H127V295H38L2 200ZM127 125H515V160H127ZM127 160H386V178H127ZM525 125H728V160H525ZM728 125H1053V178H728ZM515 0H525V125H515ZM728 0H738V125H728ZM1026 0H1053V125H1026ZM597 160H606V265H597ZM597 390H606V510H597ZM606 480H882V493H606ZM775 178H785V480H775ZM974 480H1053V493H974ZM1042 178H1053V493H1042ZM978 178H988V292H978ZM978 280H1042V292H978ZM2 716L38 618H127V812H38ZM127 668H606V682H127ZM597 650H606V993H597ZM38 1097H100V1145H187V1265L5 1312ZM387 1145H606V1262H387ZM597 1135H606V1145H597ZM847 1145H985V1262H847ZM1225 1145H1365V1262H1225ZM1302 0H1327V525H1302ZM1327 47H1568V60H1327ZM1300 525H1340V1145H1300ZM1225 403H1300V418H1225ZM1225 403H1235V492H1225ZM1225 480H1300V492H1225Z"/></g>
<g transform="translate(715,2161) scale(.456,.3333)"><path d="M281 33H309V80H281ZM238 80H375V118H238ZM238 118H265V525H238ZM227 525H265V1145H227ZM204 1145H344V1262H204ZM265 543H343V557H265ZM333 543H343V633H333ZM265 620H343V633H265ZM0 47H25V60H0ZM25 28H35V166H25ZM518 0H558V305H518ZM504 80H518V118H504ZM558 40H627V55H558ZM617 55H627V157H617ZM518 157H1442V192H518ZM518 192H840V210H518ZM830 210H840V528H830ZM558 280H650V295H558ZM640 210H650V295H640ZM520 295H530V305H520ZM520 430H530V542H520ZM530 528H858V542H530ZM1442 97H1530L1566 192 1530 290H1442ZM1442 596H1530L1566 692 1530 790H1442ZM963 528H987V542H963ZM977 528H987V668H977ZM987 635H1442V650H987ZM977 808H987V1180H977ZM962 1180H1180V1262H962ZM1043 1145H1180V1180H1043ZM582 1145H721V1262H582ZM1383 1145H1468V1097H1528L1565 1307 1383 1265Z"/></g>
</g>
<!-- watermark -->
<g opacity=".55"><path d="M48 2540V2538L73 2516 98 2538V2560" fill="none" stroke="#cfcfcf" stroke-width="4"/><path d="M51 2546V2565H68M84 2565V2548" fill="none" stroke="#bdbdbd" stroke-width="7"/></g>
<text class="t" x="106" y="2557" textLength="168" lengthAdjust="spacingAndGlyphs">Домклик</text>
</svg>
</body></html>
